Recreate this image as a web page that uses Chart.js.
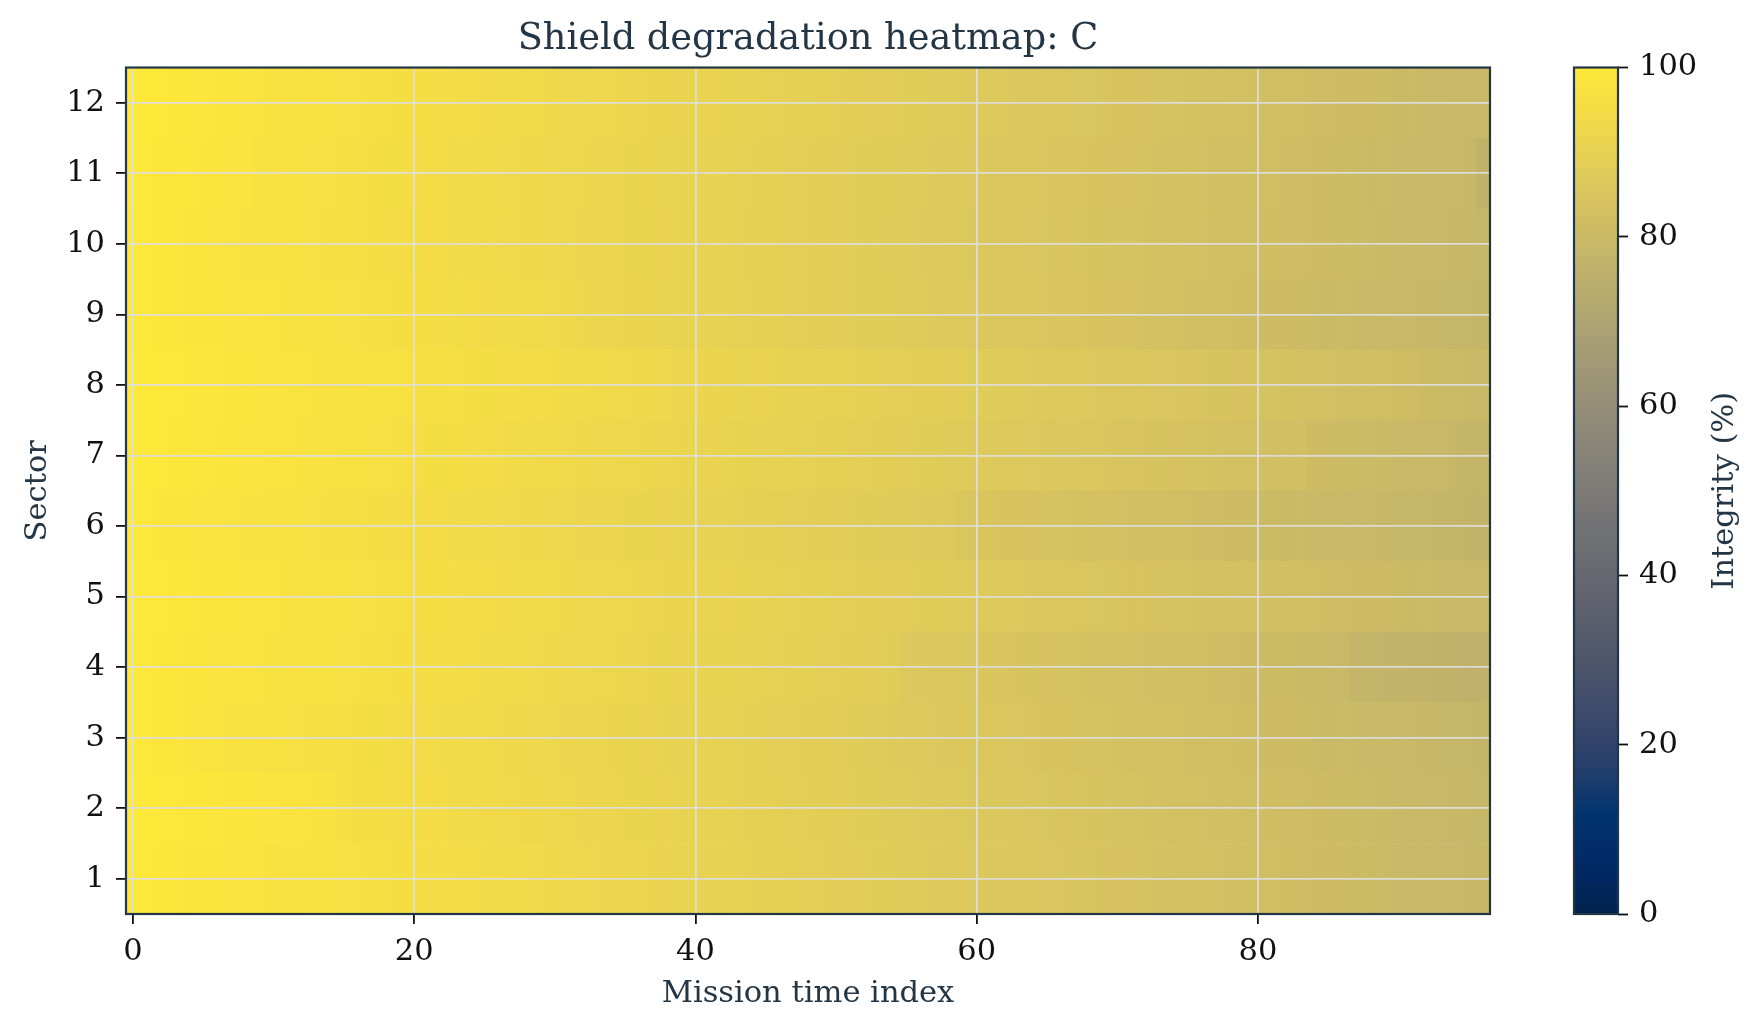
<!DOCTYPE html>
<html>
<head>
<meta charset="utf-8">
<title>Shield degradation heatmap: C</title>
<script src="https://cdn.jsdelivr.net/npm/chart.js@4.4.1/dist/chart.umd.min.js"></script>
<style>
  html, body { margin: 0; padding: 0; background: #ffffff; }
  #wrap { position: relative; width: 1762px; height: 1032px; overflow: hidden; }
  #heatmap { position: absolute; left: 0; top: 0; }
  #colorbar { position: absolute; left: 1500px; top: 0; }
</style>
</head>
<body>
<div id="wrap">
  <canvas id="heatmap" width="1762" height="1032"></canvas>
  <canvas id="colorbar" width="262" height="1032"></canvas>
</div>
<script>
// ---- data (integrity %, one array per sector, time index 0..96) ----
const sectors = [1, 2, 3, 4, 5, 6, 7, 8, 9, 10, 11, 12];
const xTicks = [0, 20, 40, 60, 80];
const cbarTicks = [0, 20, 40, 60, 80, 100];

const sector01 = [
  99.7, 99.5, 99.2, 99.0, 98.8, 98.6, 98.4, 98.1, 97.9, 97.8,
  97.5, 97.3, 97.1, 96.8, 96.6, 96.3, 96.2, 95.9, 95.7, 95.5,
  95.3, 95.0, 94.9, 94.6, 94.4, 94.2, 93.9, 93.8, 93.5, 93.3,
  93.1, 92.9, 92.6, 92.5, 92.2, 92.0, 91.8, 91.5, 91.3, 91.1,
  90.7, 90.5, 90.3, 90.1, 89.8, 89.6, 89.4, 89.2, 89.0, 88.8,
  88.6, 88.3, 88.1, 87.9, 87.7, 87.5, 87.3, 87.0, 86.8, 86.6,
  86.4, 86.2, 86.0, 85.8, 85.5, 85.3, 85.1, 84.9, 84.7, 84.5,
  84.2, 84.0, 83.8, 83.6, 83.4, 83.2, 83.0, 82.7, 82.5, 82.3,
  82.1, 81.9, 81.7, 81.5, 81.2, 81.0, 80.8, 80.6, 80.4, 80.2,
  79.9, 79.7, 79.5, 79.3, 79.1, 78.9, 78.7
];
const sector02 = [
  99.9, 99.8, 99.6, 99.4, 99.3, 99.1, 98.9, 98.7, 98.5, 98.3,
  98.1, 97.9, 97.6, 97.4, 97.2, 95.8, 95.6, 95.4, 95.2, 95.0,
  94.8, 94.6, 94.4, 94.2, 93.9, 93.7, 93.5, 93.3, 93.1, 92.9,
  92.7, 92.4, 92.2, 92.0, 91.8, 91.6, 91.4, 91.1, 90.9, 90.7,
  90.5, 90.3, 90.1, 89.9, 89.6, 89.4, 89.2, 89.0, 88.8, 88.6,
  88.4, 88.1, 87.9, 87.7, 87.5, 87.3, 87.1, 86.8, 86.6, 86.4,
  86.2, 86.0, 85.8, 85.6, 85.3, 85.1, 84.9, 84.7, 84.5, 84.3,
  84.0, 83.8, 83.6, 83.4, 83.2, 83.0, 82.8, 82.5, 82.3, 82.1,
  81.9, 81.7, 81.5, 81.3, 81.0, 80.8, 80.6, 80.4, 80.2, 80.0,
  79.7, 79.5, 79.3, 79.1, 78.9, 78.7, 78.5
];
const sector03 = [
  99.6, 99.4, 99.2, 98.9, 98.0, 97.8, 97.6, 97.4, 97.2, 97.0,
  96.8, 96.5, 96.3, 96.1, 95.9, 95.7, 95.5, 95.3, 95.0, 94.8,
  94.6, 94.4, 94.2, 94.0, 93.7, 93.5, 93.3, 93.1, 92.9, 92.7,
  92.5, 92.2, 92.0, 91.8, 91.6, 91.4, 91.2, 90.9, 90.7, 90.5,
  90.3, 90.1, 89.9, 89.7, 89.4, 89.2, 89.0, 88.8, 88.6, 88.4,
  88.2, 87.9, 87.7, 87.2, 87.0, 86.8, 86.6, 86.3, 86.1, 85.9,
  85.7, 85.5, 85.3, 85.1, 84.8, 84.6, 84.4, 84.2, 84.0, 83.8,
  83.5, 83.3, 83.1, 82.9, 82.7, 82.5, 82.3, 82.0, 81.8, 81.6,
  81.4, 81.2, 81.0, 80.8, 80.5, 80.3, 80.1, 79.9, 79.7, 79.5,
  79.2, 79.0, 78.8, 78.6, 78.4, 78.2, 78.0
];
const sector04 = [
  99.6, 99.4, 99.2, 98.9, 98.7, 98.5, 98.3, 98.1, 97.9, 97.7,
  97.5, 97.2, 97.0, 96.8, 96.6, 96.4, 96.2, 96.0, 95.7, 95.5,
  95.3, 95.1, 94.9, 94.7, 94.4, 94.2, 94.0, 93.8, 93.6, 93.4,
  93.2, 92.9, 92.7, 92.5, 92.3, 92.1, 91.9, 91.6, 91.4, 91.2,
  91.0, 90.8, 90.6, 90.4, 90.1, 89.9, 89.7, 89.5, 89.3, 89.1,
  88.9, 88.6, 88.4, 88.2, 88.0, 86.3, 86.1, 85.8, 85.6, 85.4,
  85.2, 85.0, 84.8, 84.6, 84.3, 84.1, 83.9, 83.7, 83.5, 83.3,
  83.0, 82.8, 82.6, 82.4, 82.2, 82.0, 81.8, 81.5, 81.3, 81.1,
  80.9, 80.7, 80.5, 80.3, 80.0, 79.8, 79.6, 77.9, 77.7, 77.5,
  77.2, 77.0, 76.8, 76.6, 76.4, 76.2, 76.0
];
const sector05 = [
  99.8, 99.6, 99.4, 99.2, 99.0, 98.8, 98.6, 98.4, 98.2, 98.0,
  97.8, 97.5, 97.3, 97.1, 96.9, 96.7, 96.5, 96.3, 96.0, 95.8,
  95.6, 95.4, 95.2, 95.0, 94.7, 94.5, 94.3, 94.1, 93.9, 93.7,
  93.5, 93.2, 93.0, 92.8, 92.6, 92.4, 92.2, 91.9, 91.7, 91.5,
  91.3, 91.1, 90.9, 90.7, 90.4, 90.2, 90.0, 89.8, 89.6, 89.4,
  89.2, 88.9, 88.7, 88.5, 88.3, 88.1, 87.9, 87.6, 87.4, 87.2,
  87.0, 86.8, 86.6, 86.4, 86.1, 85.9, 85.7, 85.5, 85.3, 85.1,
  84.8, 84.6, 84.4, 84.2, 84.0, 83.8, 83.6, 83.3, 83.1, 82.9,
  82.7, 82.5, 82.3, 82.1, 81.8, 81.6, 81.4, 81.2, 81.0, 80.8,
  80.5, 80.3, 80.1, 79.9, 79.7, 79.5, 79.3
];
const sector06 = [
  99.6, 99.4, 98.7, 98.4, 98.2, 98.0, 97.8, 97.6, 97.4, 97.2,
  97.0, 96.7, 96.5, 96.3, 96.1, 95.9, 95.7, 95.5, 95.2, 95.0,
  94.8, 94.6, 94.4, 94.2, 93.9, 93.7, 93.5, 93.3, 93.1, 92.9,
  92.7, 92.4, 92.2, 92.0, 91.8, 91.6, 91.4, 91.1, 90.9, 90.7,
  90.5, 90.3, 90.1, 89.9, 89.6, 89.4, 89.2, 89.0, 88.8, 88.6,
  88.4, 88.1, 87.9, 87.7, 87.5, 87.3, 87.1, 86.8, 86.6, 85.2,
  85.0, 84.8, 84.6, 84.4, 84.1, 83.9, 83.7, 83.5, 83.3, 83.1,
  82.8, 82.6, 82.4, 82.2, 82.0, 81.8, 81.6, 81.3, 81.1, 80.9,
  80.7, 80.5, 80.3, 80.1, 79.8, 79.6, 79.4, 79.2, 79.0, 78.8,
  78.5, 78.3, 78.1, 77.9, 77.7, 77.5, 77.3
];
const sector07 = [
  99.9, 99.7, 99.5, 99.3, 99.1, 98.9, 98.7, 98.5, 98.3, 98.1,
  97.9, 97.7, 97.4, 97.2, 97.0, 96.8, 96.6, 96.4, 96.2, 95.9,
  95.7, 95.5, 95.3, 95.1, 94.9, 94.6, 94.4, 94.2, 94.0, 93.8,
  93.6, 93.4, 93.1, 92.9, 92.7, 92.5, 92.3, 92.1, 91.8, 91.6,
  91.4, 91.2, 91.0, 90.8, 90.6, 90.3, 90.1, 89.9, 89.7, 89.5,
  89.3, 89.1, 88.8, 88.6, 88.4, 88.2, 88.0, 87.8, 87.5, 87.3,
  87.1, 86.9, 86.7, 86.5, 86.3, 86.0, 85.8, 85.6, 85.4, 85.2,
  85.0, 84.7, 84.5, 84.3, 84.1, 83.9, 83.7, 83.5, 83.2, 83.0,
  82.8, 82.6, 82.4, 82.2, 81.0, 80.8, 80.6, 80.4, 80.2, 80.0,
  79.7, 79.5, 79.3, 79.1, 78.1, 77.9, 77.7
];
const sector08 = [
  99.9, 99.8, 99.6, 99.4, 99.2, 99.0, 98.9, 98.7, 98.5, 98.3,
  98.1, 97.9, 97.7, 97.5, 97.3, 97.2, 97.0, 96.8, 96.6, 96.4,
  96.3, 96.1, 95.9, 95.7, 95.5, 95.3, 95.1, 94.9, 94.7, 94.5,
  94.3, 94.1, 93.9, 93.7, 93.5, 93.3, 93.1, 92.9, 92.7, 92.0,
  91.9, 91.7, 91.5, 91.3, 91.1, 90.9, 90.7, 90.5, 90.3, 90.1,
  89.9, 89.7, 89.5, 89.3, 89.1, 88.9, 88.7, 88.5, 88.3, 88.1,
  87.9, 87.7, 87.5, 87.3, 87.1, 86.9, 86.7, 86.5, 86.3, 86.1,
  85.9, 85.7, 85.5, 85.3, 85.1, 84.9, 84.7, 84.5, 84.3, 84.1,
  83.9, 83.7, 83.5, 83.3, 83.0, 82.8, 82.6, 82.4, 82.2, 82.0,
  81.7, 81.5, 80.6, 80.4, 80.2, 80.0, 79.8
];
const sector09 = [
  99.7, 99.5, 99.3, 99.0, 98.8, 98.6, 98.4, 98.2, 98.0, 97.8,
  97.6, 97.3, 97.1, 96.9, 96.7, 96.5, 96.3, 96.1, 95.8, 95.6,
  95.4, 95.2, 95.0, 94.8, 94.5, 94.3, 94.1, 93.9, 93.7, 93.5,
  93.3, 93.1, 92.3, 92.1, 91.9, 91.7, 91.5, 91.2, 91.0, 90.8,
  90.6, 90.4, 90.2, 90.0, 89.7, 89.5, 89.3, 89.1, 88.9, 88.7,
  88.5, 88.2, 88.0, 87.8, 87.6, 87.4, 87.2, 86.9, 86.7, 86.5,
  86.3, 86.1, 85.9, 85.7, 85.4, 85.2, 85.0, 84.8, 84.6, 84.4,
  84.1, 83.9, 83.1, 82.9, 82.7, 82.5, 82.3, 82.0, 81.8, 81.6,
  81.4, 81.2, 81.0, 80.8, 80.5, 80.3, 80.1, 79.9, 79.7, 79.5,
  79.2, 79.0, 78.8, 78.6, 78.4, 78.2, 78.0
];
const sector10 = [
  99.7, 99.5, 99.3, 99.0, 98.8, 98.6, 97.8, 97.6, 97.4, 97.2,
  97.0, 96.7, 96.5, 96.3, 96.1, 95.9, 95.7, 95.5, 95.2, 95.0,
  94.8, 94.6, 94.4, 94.2, 93.9, 93.7, 93.5, 93.3, 93.1, 92.9,
  92.7, 92.4, 92.2, 92.0, 91.8, 91.6, 91.4, 91.1, 90.9, 90.7,
  90.5, 90.3, 90.1, 89.9, 89.6, 89.4, 89.2, 89.0, 88.8, 88.6,
  88.4, 88.1, 87.9, 87.7, 87.5, 87.3, 87.1, 86.8, 86.6, 86.4,
  86.2, 86.0, 85.8, 85.6, 85.3, 85.1, 84.9, 84.7, 84.5, 84.3,
  84.0, 83.8, 83.6, 83.4, 83.2, 83.0, 82.8, 82.5, 82.3, 82.1,
  81.9, 81.7, 81.5, 81.3, 81.0, 80.8, 80.6, 80.4, 80.2, 80.0,
  79.7, 79.5, 79.3, 79.1, 78.9, 78.7, 78.5
];
const sector11 = [
  99.8, 99.6, 99.3, 99.1, 98.9, 98.7, 98.5, 98.3, 98.1, 97.2,
  97.0, 96.8, 96.6, 96.4, 96.2, 95.9, 95.7, 95.5, 95.3, 95.1,
  94.9, 94.7, 94.4, 94.2, 94.0, 93.8, 93.6, 93.4, 93.2, 92.9,
  92.7, 92.5, 92.3, 92.1, 91.9, 91.7, 91.4, 91.2, 91.0, 90.8,
  90.6, 90.4, 90.2, 89.9, 89.7, 89.5, 89.3, 89.1, 88.9, 88.7,
  88.4, 88.2, 88.0, 87.8, 87.6, 87.4, 87.2, 86.9, 86.7, 86.5,
  86.3, 86.1, 85.9, 85.7, 85.4, 85.2, 85.0, 84.8, 84.6, 84.4,
  84.1, 83.9, 83.7, 83.5, 83.3, 83.1, 82.9, 82.6, 82.4, 82.2,
  82.0, 81.8, 81.6, 81.4, 81.1, 80.9, 80.7, 80.5, 80.3, 80.1,
  79.8, 79.6, 79.4, 79.2, 79.0, 78.8, 76.4
];
const sector12 = [
  99.9, 99.7, 99.5, 99.3, 99.1, 98.9, 98.7, 98.5, 98.3, 97.7,
  97.5, 97.3, 97.1, 96.9, 96.7, 96.4, 96.2, 96.0, 95.8, 95.6,
  95.4, 95.2, 95.0, 94.7, 94.5, 94.3, 94.1, 93.9, 93.7, 93.5,
  93.2, 93.0, 92.8, 92.6, 92.4, 92.2, 92.0, 91.7, 91.5, 91.3,
  91.1, 90.9, 90.7, 90.5, 90.2, 90.0, 89.8, 89.6, 89.4, 89.2,
  89.0, 88.7, 88.5, 88.3, 88.1, 87.9, 87.7, 87.4, 87.2, 87.0,
  86.8, 86.6, 86.4, 86.2, 85.9, 85.7, 85.5, 85.3, 85.1, 84.9,
  84.6, 84.4, 84.2, 84.0, 83.8, 83.6, 83.4, 83.1, 82.9, 82.7,
  82.5, 82.3, 82.1, 81.9, 81.6, 81.4, 81.2, 81.0, 80.8, 80.6,
  80.3, 80.1, 79.9, 79.7, 79.5, 79.3, 79.1
];

const sectorRows = [
  sector01, sector02, sector03, sector04, sector05, sector06,
  sector07, sector08, sector09, sector10, sector11, sector12
];

// ---- style ----
const INK = '#243645';
const TICK_INK = '#111111';
const GRID = 'rgba(222, 222, 222, 0.92)';
const SERIF = "'DejaVu Serif', 'Liberation Serif', serif";

// cividis colour stops (position 0..1, rgb)
const CIVIDIS = [
  [0.000, [0, 34, 78]],
  [0.059, [0, 42, 102]],
  [0.118, [0, 52, 110]],
  [0.176, [39, 63, 108]],
  [0.235, [60, 74, 107]],
  [0.294, [76, 85, 107]],
  [0.353, [91, 95, 109]],
  [0.412, [104, 106, 112]],
  [0.471, [117, 117, 117]],
  [0.529, [131, 129, 120]],
  [0.588, [146, 140, 120]],
  [0.647, [161, 152, 118]],
  [0.706, [176, 165, 114]],
  [0.765, [193, 178, 106]],
  [0.824, [209, 191, 99]],
  [0.882, [225, 205, 88]],
  [0.941, [242, 219, 72]],
  [1.000, [254, 232, 56]]
];

function cividis(value) {
  const t = Math.min(1, Math.max(0, value / 100));
  for (let i = 1; i < CIVIDIS.length; i++) {
    const [p1, c1] = CIVIDIS[i];
    if (t <= p1) {
      const [p0, c0] = CIVIDIS[i - 1];
      const f = (t - p0) / (p1 - p0);
      const rgb = c0.map((c, k) => Math.round(c + (c1[k] - c) * f));
      return 'rgb(' + rgb.join(',') + ')';
    }
  }
  return 'rgb(254,232,56)';
}

// spines on all four sides of the plot area
const frame = {
  id: 'frame',
  afterDraw(chart) {
    const { ctx, chartArea: a } = chart;
    ctx.save();
    ctx.strokeStyle = INK;
    ctx.lineWidth = 2.2;
    ctx.strokeRect(a.left, a.top, a.right - a.left, a.bottom - a.top);
    ctx.restore();
  }
};

// colorbar label, reading bottom to top
const cbarLabel = {
  id: 'cbarLabel',
  afterDraw(chart) {
    const { ctx, chartArea: a } = chart;
    ctx.save();
    ctx.translate(chart.width - 37, (a.top + a.bottom) / 2);
    ctx.rotate(-Math.PI / 2);
    ctx.font = '30.5px ' + SERIF;
    ctx.fillStyle = INK;
    ctx.textAlign = 'center';
    ctx.textBaseline = 'middle';
    ctx.fillText('Integrity (%)', 0, 0);
    ctx.restore();
  }
};

const tickFont = { family: SERIF, size: 30.5 };
const labelFont = { family: SERIF, size: 30.5 };
const gridStyle = { offset: false, color: GRID, lineWidth: 1.8, z: 1, tickColor: TICK_INK, tickLength: 10, tickWidth: 1.8 };

// ---- heatmap ----
new Chart(document.getElementById('heatmap'), {
  type: 'bar',
  data: {
    datasets: sectorRows.map((row, k) => ({
      label: 'Sector ' + sectors[k],
      data: row.map((v, i) => ({ x: i, y: [sectors[k] - 0.5, sectors[k] + 0.5] })),
      backgroundColor: row.map(cividis),
      borderWidth: 0,
      grouped: false,
      barPercentage: 1,
      categoryPercentage: 1
    }))
  },
  options: {
    responsive: false,
    animation: false,
    events: [],
    layout: { autoPadding: false, padding: { left: 0, right: 272, top: 0, bottom: 0 } },
    plugins: {
      legend: { display: false },
      tooltip: { enabled: false },
      title: {
        display: true,
        text: 'Shield degradation heatmap: C',
        color: INK,
        fullSize: false,
        font: { family: SERIF, size: 36.7, weight: 'normal' },
        padding: { top: 17, bottom: 6.5 }
      }
    },
    scales: {
      x: {
        type: 'linear',
        min: -0.5,
        max: 96.5,
        offset: false,
        afterBuildTicks: (s) => { s.ticks = xTicks.map(v => ({ value: v })); },
        afterFit: (s) => { s.height = 118; },
        grid: gridStyle,
        border: { display: false },
        ticks: { color: TICK_INK, font: tickFont, padding: 10, maxRotation: 0, autoSkip: false },
        title: { display: true, text: 'Mission time index', color: INK, font: labelFont, padding: { top: 0, bottom: 20 } }
      },
      y: {
        type: 'linear',
        min: 0.5,
        max: 12.5,
        offset: false,
        afterBuildTicks: (s) => { s.ticks = sectors.map(v => ({ value: v })); },
        afterFit: (s) => { s.width = 126; },
        grid: gridStyle,
        border: { display: false },
        ticks: { color: TICK_INK, font: tickFont, padding: 11, autoSkip: false },
        title: { display: true, text: 'Sector', color: INK, font: labelFont, padding: { top: 20, bottom: 0 } }
      }
    }
  },
  plugins: [frame]
});

// ---- colorbar ----
new Chart(document.getElementById('colorbar'), {
  type: 'bar',
  data: {
    labels: [''],
    datasets: [{
      data: [[0, 100]],
      backgroundColor: (c) => {
        const a = c.chart.chartArea;
        if (!a) return cividis(50);
        const g = c.chart.ctx.createLinearGradient(0, a.bottom, 0, a.top);
        CIVIDIS.forEach(([p, rgb]) => g.addColorStop(p, 'rgb(' + rgb.join(',') + ')'));
        return g;
      },
      borderWidth: 0,
      barPercentage: 1,
      categoryPercentage: 1
    }]
  },
  options: {
    responsive: false,
    animation: false,
    events: [],
    layout: { autoPadding: false, padding: { left: 74, right: 0, top: 67.5, bottom: 118 } },
    plugins: { legend: { display: false }, tooltip: { enabled: false } },
    scales: {
      x: { display: false },
      y: {
        position: 'right',
        min: 0,
        max: 100,
        afterBuildTicks: (s) => { s.ticks = cbarTicks.map(v => ({ value: v })); },
        afterFit: (s) => { s.width = 144; },
        grid: { drawOnChartArea: false, tickColor: TICK_INK, tickLength: 10, tickWidth: 1.8 },
        border: { display: false },
        ticks: { color: TICK_INK, font: tickFont, padding: 11 }
      }
    }
  },
  plugins: [frame, cbarLabel]
});
</script>
</body>
</html>
